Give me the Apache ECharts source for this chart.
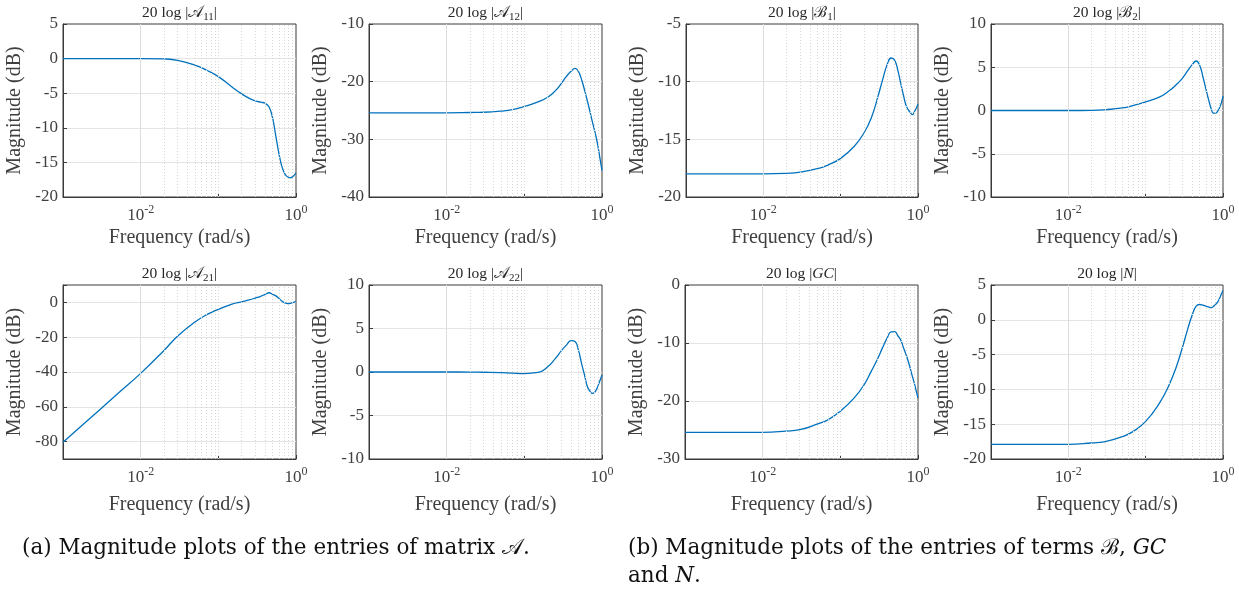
<!DOCTYPE html>
<html>
<head>
<meta charset="utf-8">
<script src="https://cdn.jsdelivr.net/npm/echarts@6/dist/echarts.min.js"></script>
<style>
html, body {margin: 0; padding: 0; background: #fff;}
#main {width: 1239px; height: 590px;}
</style>
</head>
<body>
<div id="main"></div>
<script>
// frequency samples (rad/s) shared by all panels
var freq = [0.001, 0.002, 0.003, 0.005, 0.01, 0.02, 0.03, 0.05, 0.07, 0.1, 0.15, 0.2, 0.25, 0.3, 0.35,
    0.4, 0.45, 0.5, 0.55, 0.6, 0.65, 0.7, 0.75, 0.8, 0.85, 0.9, 0.95, 1.0];

// magnitudes in dB
var magA11 = [0, 0, 0, 0, 0, -0.05, -0.25, -0.95, -1.65, -2.6, -4.1, -5.1, -5.75, -6.1, -6.3,
    -6.45, -7.0, -8.6, -11.2, -13.6, -15.4, -16.4, -16.95, -17.15, -17.2, -17.1, -16.85, -16.5];
var magA12 = [-25.4, -25.4, -25.4, -25.4, -25.4, -25.35, -25.3, -25.1, -24.85, -24.3, -23.5, -22.7, -21.6, -20.3, -19.05,
    -18.2, -17.7, -18.3, -19.8, -21.6, -23.4, -25.2, -26.9, -28.4, -29.9, -31.7, -33.6, -35.4];
var magB1 = [-18, -18, -18, -18, -18, -17.95, -17.85, -17.55, -17.2, -16.65, -15.6, -14.45, -13.1, -11.4, -9.8,
    -8.5, -7.95, -8.15, -9.05, -10.2, -11.2, -12.05, -12.45, -12.7, -12.85, -12.6, -12.3, -11.95];
var magB2 = [0, 0, 0, 0, 0, 0.02, 0.1, 0.3, 0.6, 1.0, 1.55, 2.25, 3.0, 3.75, 4.6,
    5.3, 5.72, 5.2, 3.9, 2.5, 1.28, 0.27, -0.3, -0.3, -0.1, 0.3, 0.85, 1.65];
var magA21 = [-80.4, -68.5, -61.5, -52.7, -40.8, -27.6, -19.3, -11.3, -7.2, -4.0, -1.0, 0.34, 1.4, 2.5, 3.5,
    4.6, 5.55, 4.65, 3.75, 2.35, 1.0, 0.0, -0.5, -0.7, -0.5, -0.1, 0.2, 0.4];
var magA22 = [0, 0, 0, 0, 0, -0.01, -0.03, -0.07, -0.13, -0.18, -0.05, 0.6, 1.53, 2.45, 3.12,
    3.6, 3.5, 2.43, 0.85, -0.47, -1.7, -2.2, -2.45, -2.35, -2.0, -1.45, -0.9, -0.34];
var magGC = [-25.4, -25.4, -25.4, -25.4, -25.4, -25.2, -24.95, -24.0, -23.2, -21.75, -19.5, -17.3, -14.9, -12.8, -10.8,
    -9.15, -8.1, -8.05, -8.75, -9.5, -10.8, -11.95, -13.2, -14.5, -15.85, -17.0, -18.3, -19.5];
var magN = [-17.9, -17.9, -17.9, -17.9, -17.9, -17.7, -17.5, -16.8, -16.0, -14.6, -12.0, -9.4, -6.7, -3.9, -1.3,
    0.7, 1.95, 2.2, 2.1, 1.95, 1.85, 1.75, 1.9, 2.2, 2.53, 3.06, 3.66, 4.2];

// x tick labels (powers of ten that get a label)
var xLabelExps = [-2, 0];

var serif = "'Liberation Serif', 'DejaVu Serif', serif";
var axisColor = '#3a3a3a';
var textColor = '#404040';

var panels = [
    {letter: '𝒜', sub: '11', data: magA11, min: -20, max: 5, step: 5, left: 63, top: 24, w: 233, h: 173, xGap: 31},
    {letter: '𝒜', sub: '12', data: magA12, min: -40, max: -10, step: 10, left: 369, top: 24, w: 233, h: 173, xGap: 31},
    {letter: 'ℬ', sub: '1', data: magB1, min: -20, max: -5, step: 5, left: 686, top: 24, w: 232, h: 173, xGap: 31},
    {letter: 'ℬ', sub: '2', data: magB2, min: -10, max: 10, step: 5, left: 991, top: 24, w: 232, h: 173, xGap: 31},
    {letter: '𝒜', sub: '21', data: magA21, min: -90, max: 10, step: null, left: 63, top: 285, w: 233, h: 174, xGap: 36},
    {letter: '𝒜', sub: '22', data: magA22, min: -10, max: 10, step: 5, left: 369, top: 285, w: 233, h: 174, xGap: 36},
    {letter: 'GC', sub: '', data: magGC, min: -30, max: 0, step: 10, left: 685, top: 285, w: 233, h: 174, xGap: 36},
    {letter: 'N', sub: '', data: magN, min: -20, max: 5, step: 5, left: 991, top: 285, w: 232, h: 174, xGap: 36}
];

var minorX = [];
[0.001, 0.01, 0.1].forEach(function (d) {
    for (var k = 2; k <= 9; k++) {
        minorX.push(+(k * d).toPrecision(3));
    }
});
minorX.push(0.1);

var xLabel = function (v) {
    var e = Math.round(Math.log(v) / Math.LN10);
    if (xLabelExps.indexOf(e) < 0) {
        return '';
    }
    return '{b|10}{p|' + e + '}';
};

var grids = [], xAxes = [], yAxes = [], series = [], graphics = [];

panels.forEach(function (p, i) {
    grids.push({
        left: p.left, top: p.top, width: p.w, height: p.h,
        show: true, borderColor: axisColor, borderWidth: 1, backgroundColor: 'transparent',
        outerBoundsMode: 'none'
    });
    xAxes.push({
        gridIndex: i, type: 'log', logBase: 10, min: 0.001, max: 1,
        name: 'Frequency (rad/s)', nameLocation: 'middle', nameGap: p.xGap,
        nameTextStyle: {fontFamily: serif, fontSize: 20, color: textColor},
        axisLine: {show: true, onZero: false, lineStyle: {color: axisColor, width: 1}},
        axisTick: {show: true, inside: true, length: 4, lineStyle: {color: axisColor}},
        splitLine: {show: false},
        axisLabel: {
            margin: 7, formatter: xLabel, color: textColor,
            rich: {
                b: {fontFamily: serif, fontSize: 17, color: textColor, lineHeight: 24, verticalAlign: 'middle'},
                p: {fontFamily: serif, fontSize: 12, color: textColor, lineHeight: 12, verticalAlign: 'top'}
            }
        }
    });
    var y = {
        gridIndex: i, type: 'value', min: p.min, max: p.max,
        name: 'Magnitude (dB)', nameLocation: 'middle', nameGap: 38,
        nameTextStyle: {fontFamily: serif, fontSize: 20, color: textColor},
        axisLine: {show: true, onZero: false, lineStyle: {color: axisColor, width: 1}},
        axisTick: {show: true, inside: true, length: 4, lineStyle: {color: axisColor}},
        splitLine: {show: true, showMinLine: false, showMaxLine: false, lineStyle: {color: '#e4e4e4', width: 1}},
        axisLabel: {
            margin: 5, fontFamily: serif, fontSize: 17, color: textColor,
            formatter: function (v) {
                return (p.step == null && v % 20 !== 0) ? '' : String(v);
            }
        }
    };
    if (p.step != null) {
        y.interval = p.step;
    } else {
        y.splitNumber = 5;
    }
    yAxes.push(y);

    // grid lines of the log axis
    var lines = [{xAxis: 0.01, lineStyle: {color: '#e0e0e0', type: 'solid', width: 1}}];
    minorX.forEach(function (m) {
        lines.push({xAxis: m, lineStyle: {color: '#d6d6d6', type: [1, 2], width: 1}});
    });
    series.push({
        type: 'line', xAxisIndex: i, yAxisIndex: i, data: [], z: 1, silent: true,
        markLine: {silent: true, symbol: ['none', 'none'], label: {show: false}, animation: false, data: lines}
    });
    series.push({
        type: 'line', xAxisIndex: i, yAxisIndex: i, z: 3,
        data: freq.map(function (f, k) {
            return [f, p.data[k]];
        }),
        showSymbol: false, symbol: 'none', smooth: 0.5,
        lineStyle: {color: '#0072BD', width: 1.3}
    });

    var letterStyle = p.sub ? 'c' : 'it';
    graphics.push({
        type: 'text', x: p.left + p.w / 2, y: p.top - 11, silent: true,
        style: {
            text: '{t|20 log |}{' + letterStyle + '|' + p.letter + '}' + (p.sub ? '{s|' + p.sub + '}' : '') + '{t||}',
            align: 'center', verticalAlign: 'middle',
            rich: {
                t: {fontFamily: serif, fontSize: 15.5, fill: '#262626', lineHeight: 20, verticalAlign: 'middle'},
                c: {fontFamily: serif, fontSize: 15.5, fill: '#262626', lineHeight: 20, verticalAlign: 'middle'},
                it: {fontFamily: serif, fontStyle: 'italic', fontSize: 15.5, fill: '#262626', lineHeight: 20, verticalAlign: 'middle'},
                s: {fontFamily: serif, fontSize: 11, fill: '#262626', lineHeight: 11, verticalAlign: 'bottom'}
            }
        }
    });
});

var capRich = {
    n: {fontFamily: "'DejaVu Serif', serif", fontSize: 21.5, fill: '#111'},
    i: {fontFamily: "'DejaVu Serif', serif", fontStyle: 'italic', fontSize: 21.5, fill: '#111'}
};
graphics.push({
    type: 'text', x: 22, y: 548, silent: true,
    style: {text: '{n|(a) Magnitude plots of the entries of matrix 𝒜.}', verticalAlign: 'middle', rich: capRich}
});
graphics.push({
    type: 'text', x: 628, y: 548, silent: true,
    style: {text: '{n|(b) Magnitude plots of the entries of terms ℬ, }{i|GC}', verticalAlign: 'middle', rich: capRich}
});
graphics.push({
    type: 'text', x: 628, y: 576, silent: true,
    style: {text: '{n|and }{i|N}{n|.}', verticalAlign: 'middle', rich: capRich}
});

var myChart = echarts.init(document.getElementById('main'));
myChart.setOption({
    animation: false,
    backgroundColor: '#fff',
    grid: grids,
    xAxis: xAxes,
    yAxis: yAxes,
    series: series,
    graphic: graphics
});
</script>
</body>
</html>
